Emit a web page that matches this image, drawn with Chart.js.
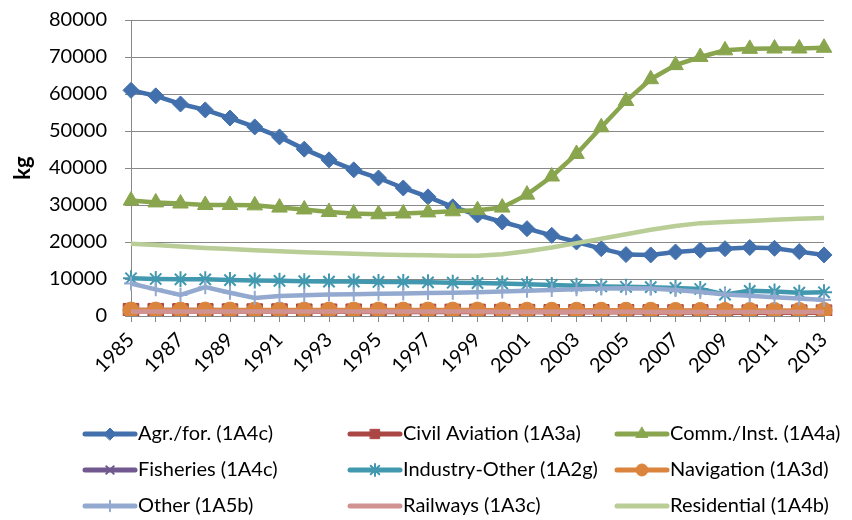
<!DOCTYPE html>
<html>
<head>
<meta charset="utf-8">
<script src="https://cdn.jsdelivr.net/npm/chart.js@4.4.1/dist/chart.umd.min.js"></script>
<style>
  html, body { margin: 0; padding: 0; background: #fff; }
  #wrap { width: 852px; height: 520px; }
</style>
</head>
<body>
<div id="wrap"><canvas id="emissionsChart" width="852" height="520"></canvas></div>
<script>
// data
const years = ['1985','1986','1987','1988','1989','1990','1991','1992','1993','1994','1995','1996','1997','1998','1999',
  '2000','2001','2002','2003','2004','2005','2006','2007','2008','2009','2010','2011','2012','2013'];

const agrFor = [61000,59500,57300,55700,53500,51100,48400,45100,42200,39500,37300,34600,32200,29500,27300,
  25400,23600,21800,20000,18200,16600,16500,17300,17800,18200,18500,18300,17400,16500];
const civilAviation = [1300,1300,1250,1250,1200,1200,1200,1150,1150,1150,1100,1100,1100,1100,1100,
  1050,1050,1000,1000,1000,1000,950,950,950,900,900,900,900,900];
const commInst = [31200,30700,30400,30000,30000,29900,29300,28800,28100,27700,27500,27700,28000,28300,28600,
  29300,32800,37700,43800,51000,58100,64000,67800,70000,71800,72200,72300,72300,72500];
const fisheries = [1600,1600,1600,1600,1550,1550,1550,1500,1500,1500,1500,1500,1500,1450,1450,
  1450,1450,1400,1400,1400,1400,1400,1350,1350,1300,1300,1300,1300,1300];
const industryOther = [10200,10000,9900,9900,9700,9600,9500,9400,9300,9300,9200,9200,9100,9000,8900,
  8800,8600,8400,8200,8000,7900,7800,7600,7300,5800,6800,6600,6300,6400];
const navigation = [1600,1600,1600,1600,1600,1600,1600,1600,1600,1600,1600,1600,1600,1600,1600,
  1550,1550,1550,1550,1550,1550,1550,1500,1500,1500,1500,1500,1500,1500];
const other = [8800,7200,5700,7800,6300,4900,5400,5600,5800,5900,6000,6100,6200,6300,6400,
  6600,6800,7000,7200,7400,7500,7400,7000,6500,5800,5500,5100,4700,4300];
const railways = [1200,1200,1200,1200,1200,1200,1200,1200,1200,1200,1200,1200,1200,1200,1200,
  1150,1150,1150,1150,1150,1150,1100,1100,1100,1100,1100,1100,1100,1100];
const residential = [19500,19200,18800,18400,18100,17800,17500,17200,17000,16800,16600,16500,16400,16300,16300,
  16700,17500,18500,19700,20900,22100,23300,24300,25100,25400,25700,26000,26300,26500];

const seriesNames = ['Agr./for. (1A4c)','Civil Aviation (1A3a)','Comm./Inst. (1A4a)',
  'Fisheries (1A4c)','Industry-Other (1A2g)','Navigation (1A3d)',
  'Other (1A5b)','Railways (1A3c)','Residential (1A4b)'];
const yTicks = [0,10000,20000,30000,40000,50000,60000,70000,80000];

const colors = ['#4270AD','#AA4643','#89A54E','#71588F','#4198AF','#DB843D','#93A9CF','#D19392','#B9CD96'];
const markers = ['rectRot','rect','triangle','crossRot','star','circle','cross',false,false];
const markerSize = [8,11,9,7,8,8,7,0,0];

const values = [agrFor, civilAviation, commInst, fisheries, industryOther, navigation, other, railways, residential];

const datasets = values.map(function (v, i) {
  return {
    label: seriesNames[i],
    data: v,
    borderColor: colors[i],
    backgroundColor: colors[i],
    borderWidth: 4.5,
    pointStyle: markers[i] || 'circle',
    pointRadius: markerSize[i],
    pointBorderWidth: (markers[i] === 'star' || markers[i] === 'cross' || markers[i] === 'crossRot') ? 2 : 1,
    pointBorderColor: colors[i],
    pointBackgroundColor: colors[i],
    tension: 0,
    order: values.length - i  // later series on top, like the original
  };
});

// legend laid out as a 3 x 3 grid
const legendColX = [85, 350, 617];
const legendRowY = [434, 470, 506];

const gridLegend = {
  id: 'gridLegend',
  afterDraw(chart) {
    const ctx = chart.ctx;
    ctx.save();
    chart.data.datasets.forEach(function (ds, i) {
      const x = legendColX[i % 3];
      const y = legendRowY[Math.floor(i / 3)];
      ctx.strokeStyle = ds.borderColor;
      ctx.fillStyle = ds.borderColor;
      ctx.lineWidth = 5;
      ctx.lineCap = 'round';
      ctx.beginPath();
      ctx.moveTo(x, y);
      ctx.lineTo(x + 50, y);
      ctx.stroke();
      if (ds.pointRadius > 0) {
        ctx.lineWidth = ds.pointBorderWidth;
        Chart.helpers.drawPoint(ctx, {
          pointStyle: ds.pointStyle,
          radius: ds.pointStyle === 'rect' ? ds.pointRadius * 0.6 : ds.pointRadius * 0.75,
          borderWidth: ds.pointBorderWidth,
          rotation: 0
        }, x + 25, y);
      }
      ctx.fillStyle = '#000';
      ctx.font = '20px Lato';
      ctx.textBaseline = 'middle';
      ctx.textAlign = 'left';
      ctx.fillText(ds.label, x + 53, y);
    });
    ctx.restore();
  }
};

const ctx = document.getElementById('emissionsChart').getContext('2d');
const chart = new Chart(ctx, {
  type: 'line',
  data: { labels: years, datasets: datasets },
  options: {
    responsive: false,
    animation: false,
    layout: { padding: { top: 20, right: 28, bottom: 0, left: 0 } },
    plugins: {
      legend: { display: false },
      tooltip: { enabled: false }
    },
    scales: {
      x: {
        offset: false,
        afterFit(scale) { scale.height = 204; },
        grid: { display: true, drawOnChartArea: false, tickLength: 6, color: '#888' },
        border: { color: '#888', width: 1 },
        ticks: {
          autoSkip: false,
          minRotation: 45,
          maxRotation: 45,
          padding: 6,
          color: '#000',
          font: { family: 'Lato', size: 20 },
          callback: function (val, index) { return index % 2 === 0 ? years[index] : ''; }
        }
      },
      y: {
        min: 0,
        max: 80000,
        afterFit(scale) {
          scale.width = 131;
          scale.paddingTop = 0;
          scale.paddingBottom = 0;
        },
        afterBuildTicks(scale) { scale.ticks = yTicks.map(function (v) { return { value: v }; }); },
        grid: { color: '#888', tickLength: 6, lineWidth: 1 },
        border: { color: '#888', width: 1 },
        ticks: {
          padding: 18,
          color: '#000',
          font: { family: 'Lato', size: 20 },
          callback: function (v) { return String(v); }
        },
        title: {
          display: true,
          text: 'kg',
          color: '#000',
          font: { family: 'Lato', size: 22, weight: 'bold' },
          padding: { top: 10, bottom: 0 }
        }
      }
    }
  },
  plugins: [gridLegend]
});
</script>
</body>
</html>
